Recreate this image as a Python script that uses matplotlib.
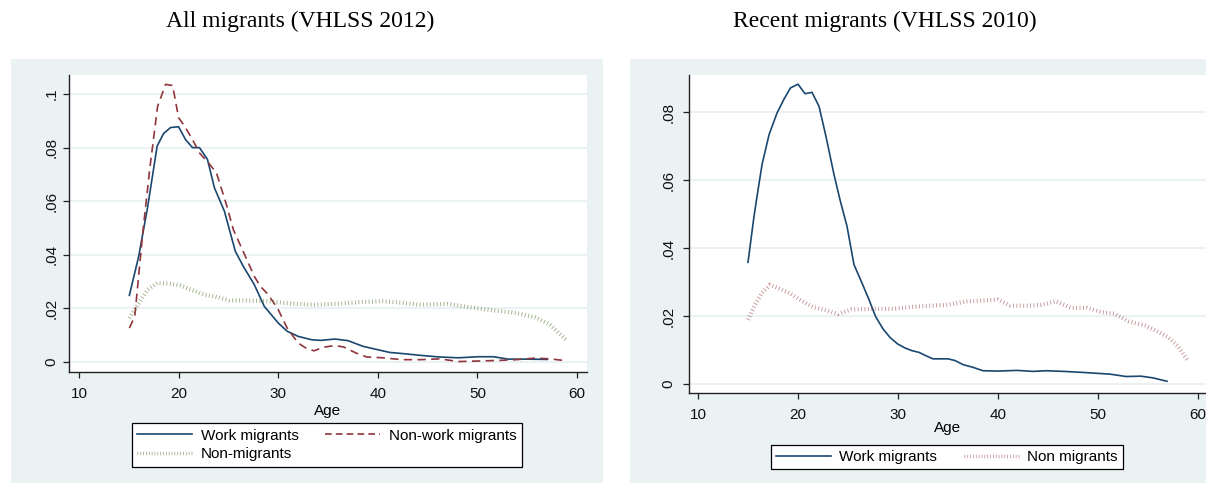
import matplotlib.pyplot as plt
from matplotlib.patches import Rectangle
from matplotlib.lines import Line2D

# ---- data ----
# All migrants (VHLSS 2012)
work12_age = [15.06, 16.0, 16.9, 17.85, 18.5, 19.2, 20.0, 20.7, 21.4, 22.1, 22.9, 23.6, 24.6, 25.7,
              26.5, 27.6, 28.6, 30.0, 30.9, 32.0, 33.4, 34.3, 35.7, 37.0, 38.5, 40.0, 41.2, 42.7,
              44.3, 46.2, 48.1, 50.1, 51.6, 53.1, 55.0, 57.0]
work12_den = [0.0249, 0.0395, 0.058, 0.0806, 0.0853, 0.0875, 0.0878, 0.083, 0.080, 0.080, 0.0756,
              0.065, 0.0563, 0.0413, 0.0357, 0.0289, 0.0208, 0.0146, 0.0115, 0.0096, 0.0083, 0.0081,
              0.0086, 0.0080, 0.0059, 0.0046, 0.0036, 0.0031, 0.0025, 0.0019, 0.0016, 0.0020,
              0.0020, 0.0011, 0.0011, 0.0010]

nonwork12_age = [15.06, 15.6, 16.4, 17.1, 17.9, 18.7, 19.4, 20.0, 20.6, 21.3, 22.1, 23.0, 23.8, 24.8,
                 25.5, 26.7, 27.6, 28.2, 29.0, 30.0, 30.9, 32.0, 32.8, 33.6, 34.5, 35.7, 36.6,
                 37.8, 38.9, 40.5, 42.4, 44.3, 46.2, 48.1, 50.1, 52.0, 53.9, 55.8, 57.3, 58.9]
nonwork12_den = [0.0127, 0.017, 0.048, 0.0719, 0.0955, 0.1036, 0.1032, 0.0912, 0.088, 0.0837, 0.078,
                 0.0743, 0.0706, 0.0588, 0.0494, 0.0395, 0.032, 0.0283, 0.0252, 0.0196, 0.0127,
                 0.0071, 0.0052, 0.0042, 0.0055, 0.0062, 0.0056, 0.0034, 0.0019, 0.0016, 0.0009,
                 0.0009, 0.0012, 0.0002, 0.0004, 0.0006, 0.0009, 0.0015, 0.0012, 0.0005]

nonmig12_age = [15.06, 15.9, 16.9, 17.85, 19.0, 20.2, 21.3, 22.5, 23.6, 25.1, 26.7, 29.0, 31.3, 33.6,
                35.9, 38.2, 40.5, 42.0, 44.3, 47.0, 49.3, 51.6, 53.9, 55.8, 57.3, 58.9]
nonmig12_den = [0.0164, 0.0214, 0.027, 0.0295, 0.0293, 0.0285, 0.027, 0.0252, 0.0245, 0.023, 0.023,
                0.0227, 0.0218, 0.0214, 0.0217, 0.0224, 0.0227, 0.0223, 0.0214, 0.0217, 0.0204,
                0.0193, 0.0183, 0.0167, 0.014, 0.0083]

# Recent migrants (VHLSS 2010)
work10_age = [15.0, 15.6, 15.85, 16.4, 17.1, 17.9, 18.6, 19.25, 20.0, 20.7, 21.4, 22.1, 22.8, 23.6,
              24.2, 24.9, 25.6, 26.4, 27.1, 27.75, 28.5, 29.2, 29.95, 30.7, 31.4, 32.1, 32.8, 33.5,
              35.0, 35.7, 36.5, 37.5, 38.5, 40.0, 41.9, 43.5, 44.8, 46.6, 48.5, 51.2, 52.8, 54.3,
              55.5, 56.9]
work10_den = [0.0358, 0.0493, 0.0542, 0.0645, 0.0733, 0.0797, 0.0838, 0.0871, 0.0882, 0.0854, 0.0858,
              0.0817, 0.0728, 0.0616, 0.0542, 0.0464, 0.0351, 0.0297, 0.0248, 0.0199, 0.0162,
              0.0137, 0.0118, 0.0106, 0.0098, 0.0093, 0.0083, 0.0074, 0.0074, 0.0069, 0.0057,
              0.0049, 0.0039, 0.0038, 0.0040, 0.0037, 0.0039, 0.0037, 0.0034, 0.0029, 0.0022,
              0.0023, 0.0018, 0.0008]

nonmig10_age = [15.0, 15.7, 16.4, 17.2, 18.0, 19.1, 20.3, 21.5, 22.6, 24.0, 25.3, 27.3, 29.6, 31.1,
                33.0, 35.0, 36.9, 38.8, 40.0, 41.2, 42.7, 44.3, 45.8, 47.3, 48.9, 50.4, 51.6, 53.1,
                54.7, 55.9, 57.0, 58.0, 58.9]
nonmig10_den = [0.0189, 0.0233, 0.0268, 0.0292, 0.0282, 0.0268, 0.0246, 0.0226, 0.0219, 0.0206,
                0.0219, 0.0221, 0.0221, 0.0226, 0.0230, 0.0233, 0.0243, 0.0246, 0.0248, 0.0231,
                0.0230, 0.0233, 0.0243, 0.0224, 0.0224, 0.0211, 0.0207, 0.0184, 0.0172, 0.0155,
                0.0138, 0.0111, 0.0072]

xticks = [10, 20, 30, 40, 50, 60]
yticks12 = [0, 0.02, 0.04, 0.06, 0.08, 0.1]
ylabels12 = ['0', '.02', '.04', '.06', '.08', '.1']
yticks10 = [0, 0.02, 0.04, 0.06, 0.08]
ylabels10 = ['0', '.02', '.04', '.06', '.08']

navy = '#1a476f'
maroon = '#90353b'
green = '#55752f'
bg = '#eaf2f3'

plt.rcParams['font.family'] = ['Liberation Sans', 'DejaVu Sans']

W, H = 1206, 483
fig = plt.figure(figsize=(W / 100, H / 100), dpi=100)
fig.patch.set_facecolor('white')

# panel backgrounds
fig.patches.append(Rectangle((11 / W, 0), (603 - 11) / W, 1 - 59 / H, transform=fig.transFigure,
                             facecolor=bg, edgecolor='none', zorder=-10))
fig.patches.append(Rectangle((630 / W, 0), (W - 630) / W, 1 - 59 / H, transform=fig.transFigure,
                             facecolor=bg, edgecolor='none', zorder=-10))


def make_ax(x0, x1, y0, y1, lpad):
    ax = fig.add_axes([x0 / W, 1 - y1 / H, (x1 - x0) / W, (y1 - y0) / H])
    ax.set_facecolor('white')
    for s in ['top', 'right']:
        ax.spines[s].set_visible(False)
    for s in ['left', 'bottom']:
        ax.spines[s].set_color('#222222')
        ax.spines[s].set_linewidth(1.0)
    ax.grid(axis='y', color=bg, linewidth=1.5)
    ax.set_axisbelow(True)
    ax.tick_params(length=4.5, width=0.9, color='#222222', labelsize=11, labelcolor='#111111')
    ax.tick_params(axis='x', pad=6.5)
    ax.set_xticks(xticks)
    ax.set_xlabel('Age', fontsize=11, labelpad=lpad)
    return ax


def dotted(ax, x, y, c, alpha):
    ax.plot(x, y, color=c, lw=3.0, alpha=alpha, linestyle=(0, (0.22, 0.6)),
            solid_capstyle='butt', dash_capstyle='butt')


# left panel
ax1 = make_ax(69, 587, 75, 372, 2)
ax1.plot(work12_age, work12_den, color=navy, lw=1.2)
ax1.plot(nonwork12_age, nonwork12_den, color=maroon, lw=1.2, linestyle=(0, (5, 3.2)))
dotted(ax1, nonmig12_age, nonmig12_den, green, 0.55)
ax1.set_xlim(9.0, 61.0)
ax1.set_ylim(-0.0037, 0.1071)
ax1.set_yticks(yticks12)
ax1.set_yticklabels(ylabels12, rotation=90, va='center')
ax1.tick_params(axis='y', pad=3)

# right panel
ax2 = make_ax(689, 1206, 75, 393, -1)
ax2.plot(work10_age, work10_den, color=navy, lw=1.2)
dotted(ax2, nonmig10_age, nonmig10_den, maroon, 0.5)
ax2.set_xlim(9.1, 60.8)
ax2.set_ylim(-0.00265, 0.0909)
ax2.set_yticks(yticks10)
ax2.set_yticklabels(ylabels10, rotation=90, va='center')
ax2.tick_params(axis='y', pad=5)

# titles
fig.text(300 / W, 1 - 21 / H, 'All migrants (VHLSS 2012)', ha='center', va='center',
         fontsize=17, family=['Liberation Serif', 'DejaVu Serif'])
fig.text(885 / W, 1 - 21 / H, 'Recent migrants (VHLSS 2010)', ha='center', va='center',
         fontsize=17, family=['Liberation Serif', 'DejaVu Serif'])

# legends
h_work = Line2D([], [], color=navy, lw=1.2)
h_nonwork = Line2D([], [], color=maroon, lw=1.2, linestyle=(0, (4, 2.5)))
h_nonmig = Line2D([], [], color=green, lw=2.5, alpha=0.6, linestyle=(0, (0.22, 0.6)))
h_nonmig10 = Line2D([], [], color=maroon, lw=2.5, alpha=0.55, linestyle=(0, (0.22, 0.6)))

leg_kw = dict(fontsize=11, frameon=True, fancybox=False, edgecolor='black', framealpha=1,
              handlelength=3.6, handletextpad=0.55, columnspacing=1.75, borderpad=0.35,
              labelspacing=0.3, borderaxespad=0, loc='center')

leg1 = fig.legend([h_work, h_nonmig, h_nonwork], ['Work migrants', 'Non-migrants', 'Non-work migrants'],
                  ncol=2, bbox_to_anchor=(327 / W, 1 - 445 / H), **leg_kw)
leg1.get_frame().set_linewidth(0.9)

leg2 = fig.legend([h_work, h_nonmig10], ['Work migrants', 'Non migrants'],
                  ncol=2, bbox_to_anchor=(947 / W, 1 - 457 / H), **leg_kw)
leg2.get_frame().set_linewidth(0.9)

fig.savefig('out.png', dpi=100)
